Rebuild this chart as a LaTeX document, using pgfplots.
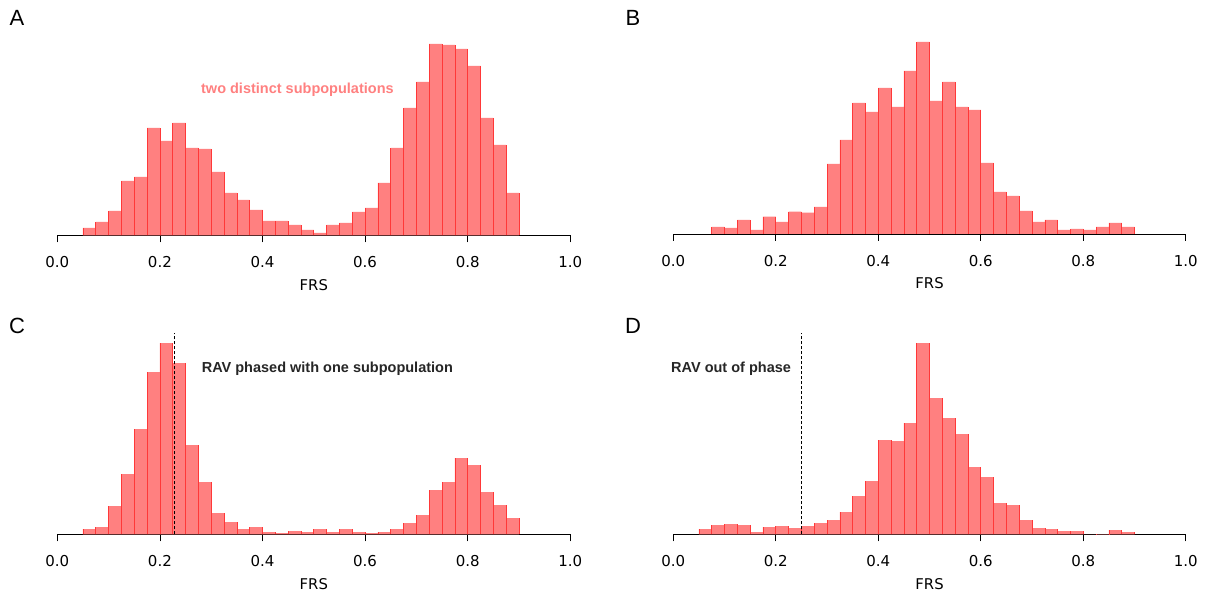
\documentclass[border=0pt]{standalone}
\usepackage{pgfplots}
\pgfplotsset{compat=1.18}
\usepackage{pgfplotstable}
\usepackage{fontspec}
\setmainfont{DejaVu Sans}
\newfontfamily\lib{Liberation Sans}

% left bin edge, bar height (last row closes the interval)
\pgfplotstableread{
x h
0.050 7.3
0.075 13.3
0.100 24.3
0.125 54.3
0.150 58.3
0.175 107.3
0.200 94.3
0.225 112.3
0.250 87.3
0.275 86.3
0.300 63.3
0.325 42.3
0.350 35.3
0.375 25.3
0.400 14.3
0.425 14.3
0.450 10.3
0.475 5.3
0.500 2.3
0.525 10.3
0.550 12.3
0.575 23.3
0.600 27.3
0.625 52.3
0.650 87.3
0.675 127.3
0.700 153.3
0.725 191.3
0.750 190.3
0.775 186.3
0.800 169.3
0.825 117.3
0.850 90.3
0.875 42.3
0.900 0
}\dataA

\pgfplotstableread{
x h
0.075 7
0.100 6
0.125 14
0.150 4
0.175 17.3
0.200 12
0.225 22.3
0.250 21.3
0.275 27
0.300 70
0.325 94
0.350 131
0.375 122
0.400 146
0.425 127
0.450 163
0.475 192
0.500 133
0.525 152
0.550 127
0.575 124
0.600 71
0.625 42
0.650 38
0.675 23
0.700 12
0.725 14
0.750 4
0.775 5
0.800 4
0.825 7
0.850 11
0.875 7
0.900 0
}\dataB

\pgfplotstableread{
x h
0.050 5.3
0.075 7.3
0.100 28.3
0.125 60.3
0.150 105.3
0.175 162.3
0.200 191.3
0.225 171.3
0.250 89.3
0.275 52.3
0.300 21.3
0.325 12.3
0.350 5.3
0.375 7.3
0.400 2.3
0.425 1.3
0.450 3.3
0.475 2.3
0.500 5.3
0.525 2.3
0.550 5.3
0.575 2.3
0.600 1.3
0.625 2.3
0.650 5.3
0.675 11.3
0.700 19.3
0.725 44.3
0.750 52.3
0.775 76.3
0.800 69.3
0.825 42.3
0.850 29.3
0.875 16.3
0.900 0
}\dataC

\pgfplotstableread{
x h
0.050 5.3
0.075 9.3
0.100 10.3
0.125 9.3
0.150 2.3
0.175 7.3
0.200 8.3
0.225 6.3
0.250 8.3
0.275 11.3
0.300 14.3
0.325 22.3
0.350 38.3
0.375 53.3
0.400 94.3
0.425 93.3
0.450 111.3
0.475 191.3
0.500 136.3
0.525 116.3
0.550 100.3
0.575 67.3
0.600 57.3
0.625 31.3
0.650 29.3
0.675 14.3
0.700 6.3
0.725 5.3
0.750 3.3
0.775 3.3
0.800 0
0.825 0.3
0.850 4.3
0.875 2.3
0.900 0
}\dataD

\pgfplotsset{
  panel/.style={
    scale only axis, width=513pt, height=210pt,
    xmin=0, xmax=1, ymin=0, ymax=210,
    axis x line=bottom, axis y line=none,
    x axis line style={-, line width=0.8pt, black},
    xtick={0,0.2,0.4,0.6,0.8,1.0},
    tick align=outside, major tick length=7pt,
    xtick style={line width=0.8pt, black},
    /pgf/number format/assume math mode=true,
    xticklabel style={font=\fontsize{15}{17}\selectfont,
      anchor=center, yshift=-20pt,
      /pgf/number format/fixed, /pgf/number format/fixed zerofill,
      /pgf/number format/precision=1},
    xlabel={FRS},
    xlabel style={font=\fontsize{14.8}{17}\selectfont,
      at={(axis description cs:0.5,0)}, anchor=center, yshift=-49.5pt},
    clip=false,
  },
  bars/.style={ybar interval, fill=red!50, draw=none},
  edges/.style={ycomb, draw=red!78, line width=0.7pt, mark=none},
}
\tikzset{
  phase/.style={black, line width=1pt, dash pattern=on 3pt off 2pt},
  note/.style={anchor=west, inner sep=0pt,
    font=\lib\bfseries\fontsize{14.5}{17}\selectfont},
  letter/.style={font=\lib\fontsize{22}{24}\selectfont, inner sep=0pt},
}

\begin{document}
\begin{tikzpicture}[x=1pt, y=1pt]
\path[use as bounding box] (0pt,0pt) rectangle (1212pt,595pt);

% A
\begin{axis}[panel, at={(57.3pt,359.7pt)}, anchor=south west]
\addplot[bars] table[x=x, y=h] {\dataA};
\addplot[edges] table[x=x, y=h] {\dataA};
\addplot[edges] table[x expr=\thisrow{x}+0.025, y=h] {\dataA};
\node[note, text=red!50] at (axis cs:0.28,145.3) {two distinct subpopulations};
\end{axis}

% B
\begin{axis}[panel, at={(673.3pt,361pt)}, anchor=south west, width=512.5pt]
\addplot[bars] table[x=x, y=h] {\dataB};
\addplot[edges] table[x=x, y=h] {\dataB};
\addplot[edges] table[x expr=\thisrow{x}+0.025, y=h] {\dataB};
\end{axis}

% C
\begin{axis}[panel, at={(57.3pt,60.7pt)}, anchor=south west]
\addplot[bars] table[x=x, y=h] {\dataC};
\addplot[edges] table[x=x, y=h] {\dataC};
\addplot[edges] table[x expr=\thisrow{x}+0.025, y=h] {\dataC};
\addplot[phase] coordinates {(0.228,0) (0.228,201.3)};
\node[note, text=black!85] at (axis cs:0.2813,166) {RAV phased with one subpopulation};
\end{axis}

% D
\begin{axis}[panel, at={(673.3pt,60.7pt)}, anchor=south west, width=512.5pt]
\addplot[bars] table[x=x, y=h] {\dataD};
\addplot[edges] table[x=x, y=h] {\dataD};
\addplot[edges] table[x expr=\thisrow{x}+0.025, y=h] {\dataD};
\addplot[phase] coordinates {(0.25,0) (0.25,201)};
\node[note, text=black!85] at (axis cs:-0.0045,166) {RAV out of phase};
\end{axis}

\node[letter] at (17pt,577pt) {A};
\node[letter] at (633pt,577pt) {B};
\node[letter] at (17pt,269pt) {C};
\node[letter] at (633pt,269pt) {D};
\end{tikzpicture}
\end{document}
